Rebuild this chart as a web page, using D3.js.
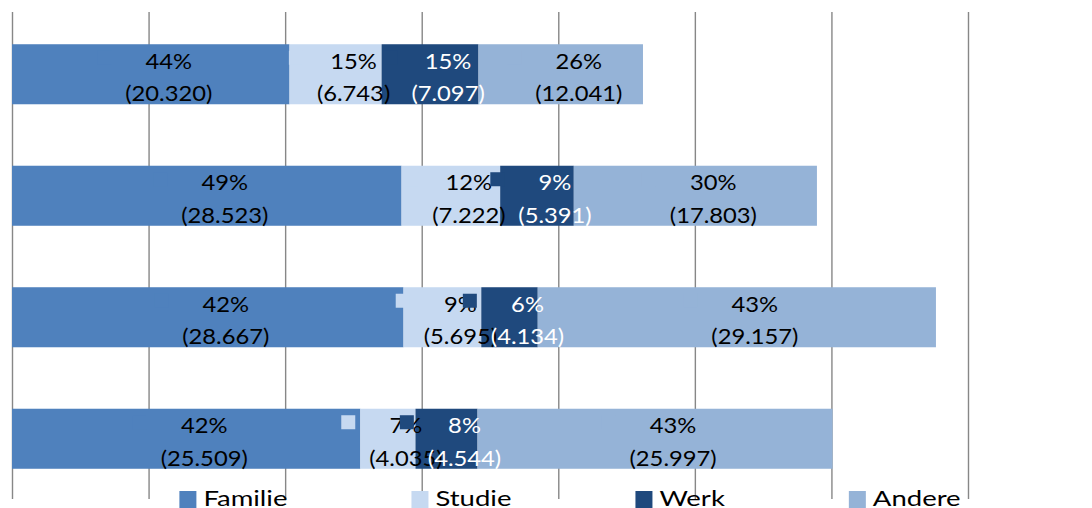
<!DOCTYPE html>
<html>
<head>
<meta charset="utf-8">
<script src="https://cdn.jsdelivr.net/npm/d3@7"></script>
<style>
  html, body { margin: 0; padding: 0; background: #fff; }
  svg { display: block; }
  text { font-family: Lato, "Open Sans", sans-serif; }
</style>
</head>
<body>
<svg id="chart" width="1092" height="508"></svg>
<script>
// ---- data ----
const categories = ["1", "2", "3", "4"];
const seriesNames = ["Familie", "Studie", "Werk", "Andere"];
const familie = [20320, 28523, 28667, 25509];
const studie  = [6743, 7222, 5695, 4035];
const werk    = [7097, 5391, 4134, 4544];
const andere  = [12041, 17803, 29157, 25997];
const pctFamilie = [44, 49, 42, 42];
const pctStudie  = [15, 12, 9, 7];
const pctWerk    = [15, 9, 6, 8];
const pctAndere  = [26, 30, 43, 43];
const xTicks = [0, 10000, 20000, 30000, 40000, 50000, 60000, 70000];

// ---- style ----
const colors = { Familie: "#4F81BD", Studie: "#C6D9F1", Werk: "#1F497D", Andere: "#95B3D7" };
const textColors = { Familie: "#000", Studie: "#000", Werk: "#fff", Andere: "#000" };
const fontSize = 22, sx = 1.08;
const legendFont = 22, legendSx = 1.25;
const labelShift = 18, keySize = 14, keyGap = 14;

const values = { Familie: familie, Studie: studie, Werk: werk, Andere: andere };
const pcts = { Familie: pctFamilie, Studie: pctStudie, Werk: pctWerk, Andere: pctAndere };

const table = categories.map((c, i) => {
  const row = { cat: c };
  seriesNames.forEach(s => { row[s] = values[s][i]; });
  return row;
});
const stacked = d3.stack().keys(seriesNames)(table);

const svg = d3.select("#chart");
const x = d3.scaleLinear().domain([0, 70000]).range([12, 968]);
const y = d3.scaleBand().domain(categories).range([13.5, 499.5]).paddingInner(0.506).paddingOuter(0.253);

const nl = d3.formatLocale({ decimal: ",", thousands: ".", grouping: [3], currency: ["€", ""] });
const fmt = nl.format(",d");

// gridlines
const grid = svg.append("g").attr("transform", "translate(0,499)")
  .call(d3.axisBottom(x).tickValues(xTicks).tickSize(-487).tickFormat(""));
grid.select(".domain").remove();
grid.selectAll(".tick line").attr("stroke", "#878787").attr("stroke-width", 1.4);

// bars
svg.append("g").selectAll("g").data(stacked).join("g")
  .attr("fill", d => colors[d.key])
  .selectAll("rect").data(d => d).join("rect")
  .attr("x", d => x(d[0]))
  .attr("y", d => y(d.data.cat))
  .attr("width", d => x(d[1]) - x(d[0]))
  .attr("height", y.bandwidth());

// labels (per series: key then text)
const labelLayer = svg.append("g");
stacked.forEach(layer => {
  const s = layer.key;
  layer.forEach((d, i) => {
    const top = y(d.data.cat);
    const cx = (x(d[0]) + x(d[1])) / 2 + labelShift;
    const g = labelLayer.append("g");
    const key = g.append("rect").attr("fill", colors[s]);
    const tg = g.append("g").attr("transform", `translate(${cx},${top}) scale(${sx},1)`);
    const t1 = tg.append("text").attr("text-anchor", "middle").attr("y", 24.5)
      .attr("font-size", fontSize).attr("fill", textColors[s]).text(pcts[s][i] + "%");
    const t2 = tg.append("text").attr("text-anchor", "middle").attr("y", 57)
      .attr("font-size", fontSize).attr("fill", textColors[s]).text("(" + fmt(values[s][i]) + ")");
    const w = Math.max(t1.node().getComputedTextLength(), t2.node().getComputedTextLength()) * sx;
    key.attr("x", cx - w / 2 - keyGap - keySize).attr("y", top + 6.5)
      .attr("width", keySize).attr("height", keySize);
  });
});

// legend
const legend = svg.append("g");
const items = seriesNames.map(s => {
  const g = legend.append("g");
  g.append("rect").attr("width", 17).attr("height", 17).attr("y", 491).attr("fill", colors[s]);
  const tg = g.append("g").attr("transform", `translate(24,506) scale(${legendSx},1)`);
  const t = tg.append("text").attr("font-size", legendFont).attr("fill", "#000").text(s);
  return { g, w: 24 + t.node().getComputedTextLength() * legendSx };
});
const itemGap = 124;
const total = d3.sum(items, d => d.w) + itemGap * (items.length - 1);
let lx = 570 - total / 2;
items.forEach(it => { it.g.attr("transform", `translate(${lx},0)`); lx += it.w + itemGap; });
</script>
</body>
</html>
